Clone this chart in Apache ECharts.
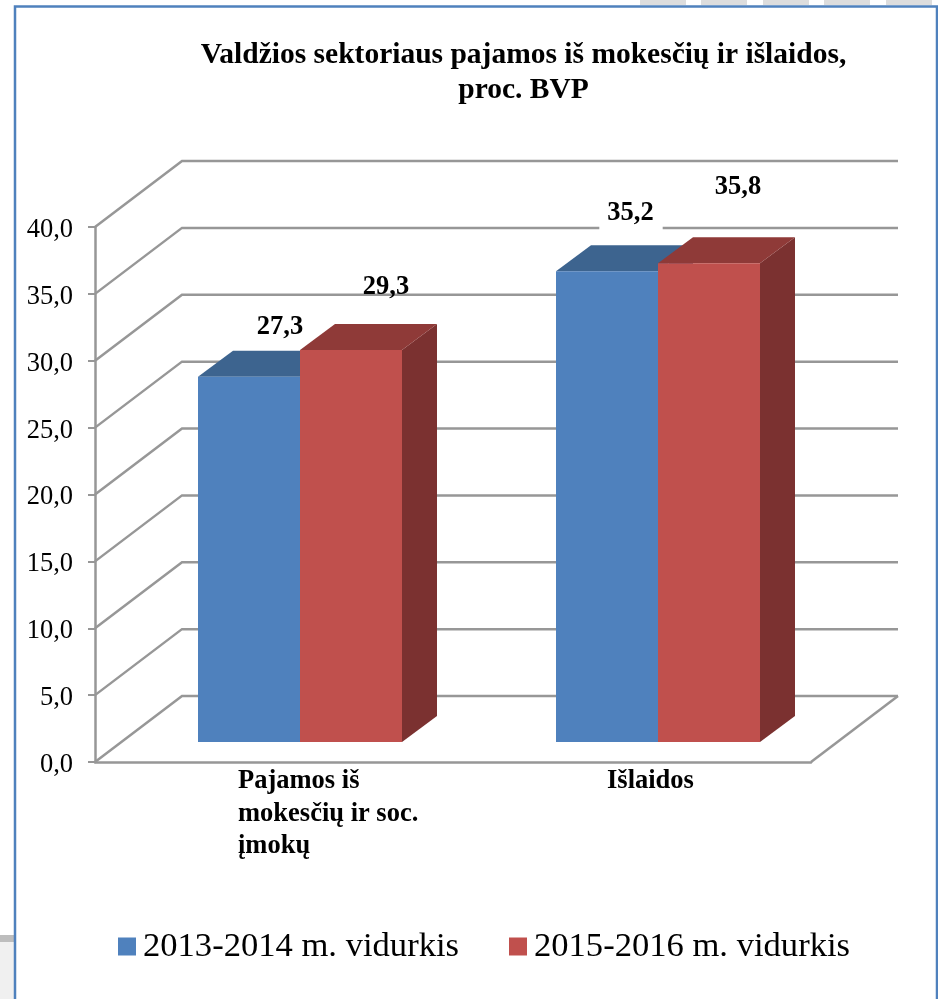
<!DOCTYPE html>
<html>
<head>
<meta charset="utf-8">
<title>Valdžios sektoriaus pajamos</title>
<script src="https://cdn.jsdelivr.net/npm/echarts@6/dist/echarts.min.js"></script>
<style>
html, body { margin: 0; padding: 0; background: #fff; }
#chart { width: 938px; height: 999px; }
</style>
</head>
<body>
<div id="chart"></div>
<script>
//----------------------Data----------------------
let categories = ["Pajamos iš\nmokesčių ir soc.\nįmokų", "Išlaidos"];
let series_names = ["2013-2014 m. vidurkis", "2015-2016 m. vidurkis"];
let values_2013 = [27.3, 35.2];
let values_2015 = [29.3, 35.8];
let y_ticks = [0, 5, 10, 15, 20, 25, 30, 35, 40];
//---------------------Styles---------------------
let serif = '"Liberation Serif", "Times New Roman", serif';
let grid_color = "#979797";
let blue = {front: "#4F81BD", top: "#3D648F", side: "#385B84"};
let red = {front: "#C0504D", top: "#8F3A38", side: "#7B3130"};
// fake 3D: how far the back wall sits from the front plane, in px
let wall_dx = 87, wall_dy = -66;
let bar_dx = 26, bar_dy = -20;
let depth_dx = 35, depth_dy = -26;
let bar_width = 102;
// data labels sit off the bars in the original, nudged by hand
let label_nudge = [
    [[31, -50], [24, -58]],
    [[35, -63], [29, -76]]
];
let cat_label_nudge = [-36, -25];
//---------------------Series---------------------
function wallItem(params, api) {
    let box = params.coordSys;
    let y = api.coord([0, api.value(1)])[1];
    let left = box.x, right = box.x + box.width;
    let lines = [[[left, y], [left + wall_dx, y + wall_dy], [right + wall_dx, y + wall_dy]]];
    if (api.value(1) === 0) {
        lines.push([[right, y], [right + wall_dx, y + wall_dy]]);
    }
    return {
        type: "group",
        children: lines.map(function (pts) {
            return {
                type: "polyline",
                shape: {points: pts},
                style: {fill: null, stroke: grid_color, lineWidth: 2.5}
            };
        })
    };
}

function barRenderer(side, colors, serie_idx) {
    return function (params, api) {
        let idx = api.value(0);
        let val = api.value(1);
        let base = api.coord([idx, 0]);
        let high = api.coord([idx, val]);
        let x0 = base[0] + bar_dx + (side < 0 ? -bar_width : 0);
        let x1 = x0 + bar_width;
        let y0 = base[1] + bar_dy;
        let y1 = high[1] + bar_dy;
        let nudge = label_nudge[serie_idx][idx];
        // 35,2 knocks a white gap out of the gridline under it
        let knock_out = serie_idx === 0 && idx === 1;
        return {
            type: "group",
            children: [
                {
                    type: "polygon",
                    shape: {points: [[x1, y0], [x1 + depth_dx, y0 + depth_dy], [x1 + depth_dx, y1 + depth_dy], [x1, y1]]},
                    style: {fill: colors.side}
                },
                {
                    type: "polygon",
                    shape: {points: [[x0, y1], [x0 + depth_dx, y1 + depth_dy], [x1 + depth_dx, y1 + depth_dy], [x1, y1]]},
                    style: {fill: colors.top}
                },
                {
                    type: "rect",
                    shape: {x: x0, y: y1, width: bar_width, height: y0 - y1},
                    style: {fill: colors.front}
                },
                {
                    type: "text",
                    x: (x0 + x1) / 2 + nudge[0],
                    y: y1 + nudge[1],
                    style: {
                        text: String(val.toFixed(1)).replace(".", ","),
                        font: "bold 26.5px " + serif,
                        fill: "#000",
                        align: "center",
                        verticalAlign: "middle",
                        backgroundColor: knock_out ? "#fff" : null,
                        padding: knock_out ? [4, 9, 4, 8] : 0
                    }
                }
            ]
        };
    };
}

function catLabelItem(params, api) {
    let idx = api.value(0);
    let pos = api.coord([idx, 0]);
    return {
        type: "text",
        x: pos[0] + cat_label_nudge[idx],
        y: pos[1] + 3,
        style: {
            text: categories[idx],
            font: "bold 26.5px " + serif,
            lineHeight: 32.5,
            fill: "#000",
            align: "left",
            verticalAlign: "top"
        }
    };
}

let series_list = [
    {
        type: "custom", name: "walls", silent: true, z: 1,
        renderItem: wallItem,
        data: y_ticks.map(function (v) { return [0, v]; })
    },
    {
        type: "custom", name: series_names[0], z: 2,
        itemStyle: {color: blue.front},
        renderItem: barRenderer(-1, blue, 0),
        data: values_2013.map(function (v, i) { return [i, v]; })
    },
    {
        type: "custom", name: series_names[1], z: 3,
        itemStyle: {color: red.front},
        renderItem: barRenderer(1, red, 1),
        data: values_2015.map(function (v, i) { return [i, v]; })
    },
    {
        type: "custom", name: "labels", silent: true, z: 4,
        renderItem: catLabelItem,
        data: categories.map(function (c, i) { return [i, 0]; })
    }
];
//------------------Generate Graph------------------
let chart_dom = document.getElementById("chart");
let chart = echarts.init(chart_dom);
let option = {
    animation: false,
    backgroundColor: "#fff",
    title: {
        text: "Valdžios sektoriaus pajamos iš mokesčių ir išlaidos,\nproc. BVP",
        left: 523.5,
        top: 38,
        padding: 0,
        textAlign: "center",
        textStyle: {fontFamily: serif, fontWeight: "bold", fontSize: 29.5, lineHeight: 35, color: "#000"}
    },
    legend: {
        left: 118,
        top: 929,
        padding: 0,
        icon: "rect",
        itemWidth: 18,
        itemHeight: 18,
        itemGap: 50,
        selectedMode: false,
        textStyle: {fontFamily: serif, fontSize: 34.6, color: "#000", padding: [0, 0, 0, 2]},
        data: [
            {name: series_names[0], itemStyle: {color: blue.front}},
            {name: series_names[1], itemStyle: {color: red.front}}
        ]
    },
    grid: {left: 95, top: 227, width: 716, height: 535},
    xAxis: {
        type: "category",
        data: categories,
        axisLine: {lineStyle: {color: grid_color, width: 2.5}},
        axisTick: {show: false},
        axisLabel: {show: false}
    },
    yAxis: {
        type: "value",
        min: 0,
        max: 40,
        interval: 5,
        splitLine: {show: false},
        axisLine: {show: true, lineStyle: {color: grid_color, width: 2.5}},
        axisTick: {show: true, length: 7, lineStyle: {color: grid_color, width: 2}},
        axisLabel: {
            margin: 22,
            verticalAlign: "top",
            lineHeight: 6,
            fontFamily: serif,
            fontSize: 26.5,
            color: "#000",
            formatter: function (v) { return v.toFixed(1).replace(".", ","); }
        }
    },
    series: series_list,
    graphic: [
        // page behind the pasted chart: frame plus scraps of the slide around it
        {type: "rect", silent: true, shape: {x: 0, y: 942, width: 15, height: 57}, style: {fill: "#F0F0F0"}},
        {type: "rect", silent: true, shape: {x: 0, y: 935, width: 15, height: 7}, style: {fill: "#BDBDBD"}},
        {type: "rect", silent: true, shape: {x: 640, y: 0, width: 46, height: 5}, style: {fill: "#DDDDDD"}},
        {type: "rect", silent: true, shape: {x: 701, y: 0, width: 46, height: 5}, style: {fill: "#DDDDDD"}},
        {type: "rect", silent: true, shape: {x: 763, y: 0, width: 46, height: 5}, style: {fill: "#DDDDDD"}},
        {type: "rect", silent: true, shape: {x: 824, y: 0, width: 46, height: 5}, style: {fill: "#DDDDDD"}},
        {type: "rect", silent: true, shape: {x: 886, y: 0, width: 46, height: 5}, style: {fill: "#DDDDDD"}},
        {type: "polyline", silent: true, shape: {points: [[15, 999], [15, 6.5], [937, 6.5], [937, 999]]},
            style: {fill: null, stroke: "#4F81BD", lineWidth: 2.5}}
    ]
};
chart.setOption(option, true);
</script>
</body>
</html>
